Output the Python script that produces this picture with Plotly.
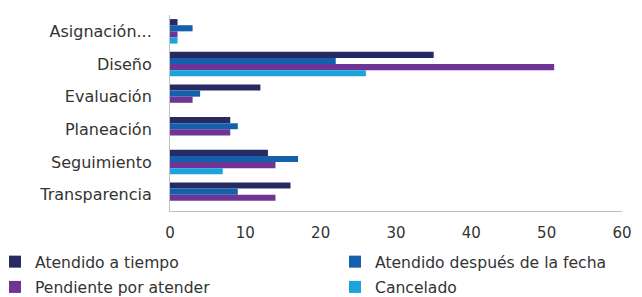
import plotly.graph_objects as go

categories = ["Asignación...", "Diseño", "Evaluación", "Planeación", "Seguimiento", "Transparencia"]
series_names = ["Atendido a tiempo", "Atendido después de la fecha", "Pendiente por atender", "Cancelado"]
atendido_a_tiempo = [1, 35, 12, 8, 13, 16]
atendido_despues = [3, 22, 4, 9, 17, 9]
pendiente = [1, 51, 3, 8, 14, 14]
cancelado = [1, 26, 0, 0, 7, 0]
x_ticks = [0, 10, 20, 30, 40, 50, 60]

colors = ["#262b63", "#1560ad", "#6e3596", "#1aa3dd"]
values = [atendido_a_tiempo, atendido_despues, pendiente, cancelado]
legend_ids = ["legend", "legend2", "legend", "legend2"]

fig = go.Figure()
for i, (name, vals, col) in enumerate(zip(series_names, values, colors)):
    fig.add_trace(go.Bar(
        y=categories, x=vals, name=name, orientation="h",
        marker=dict(color=col, line=dict(width=0)),
        legend=legend_ids[i], legendgroup=name,
    ))

# page body has an 8px default margin, so the figure is drawn 8px smaller
W, H = 634, 289
L, R, T, B = 162, 20, 7, 86
pw = W - L - R

FONT = "DejaVu Sans"
TXT = "#333333"
leg_common = dict(orientation="v", xref="paper", yref="container",
                  xanchor="left", yanchor="top",
                  font=dict(family=FONT, size=15.6, color=TXT),
                  traceorder="grouped", tracegroupgap=2, itemwidth=30,
                  bgcolor="rgba(0,0,0,0)")
fig.update_layout(
    width=W, height=H,
    barmode="group", bargap=0.25, bargroupgap=0,
    plot_bgcolor="white", paper_bgcolor="white",
    margin=dict(l=L, r=R, t=T, b=B, autoexpand=False),
    font=dict(family=FONT, size=15, color=TXT),
    xaxis=dict(range=[0, 60], tickvals=x_ticks, showgrid=False, zeroline=False,
               showline=True, linecolor="#bfbfbf", linewidth=1,
               ticks="", ticklabelstandoff=8,
               tickfont=dict(family=FONT, size=15, color=TXT)),
    yaxis=dict(autorange="reversed", showgrid=False, showline=True,
               linecolor="#bfbfbf", linewidth=1, ticks="", ticklabelstandoff=14,
               tickfont=dict(family=FONT, size=16, color=TXT)),
    legend=dict(x=(-13 - L) / pw, y=1 - 237 / H, **leg_common),
    legend2=dict(x=(327 - L) / pw, y=1 - 237 / H, **leg_common),
    showlegend=True,
)
fig.write_html("out.html")
